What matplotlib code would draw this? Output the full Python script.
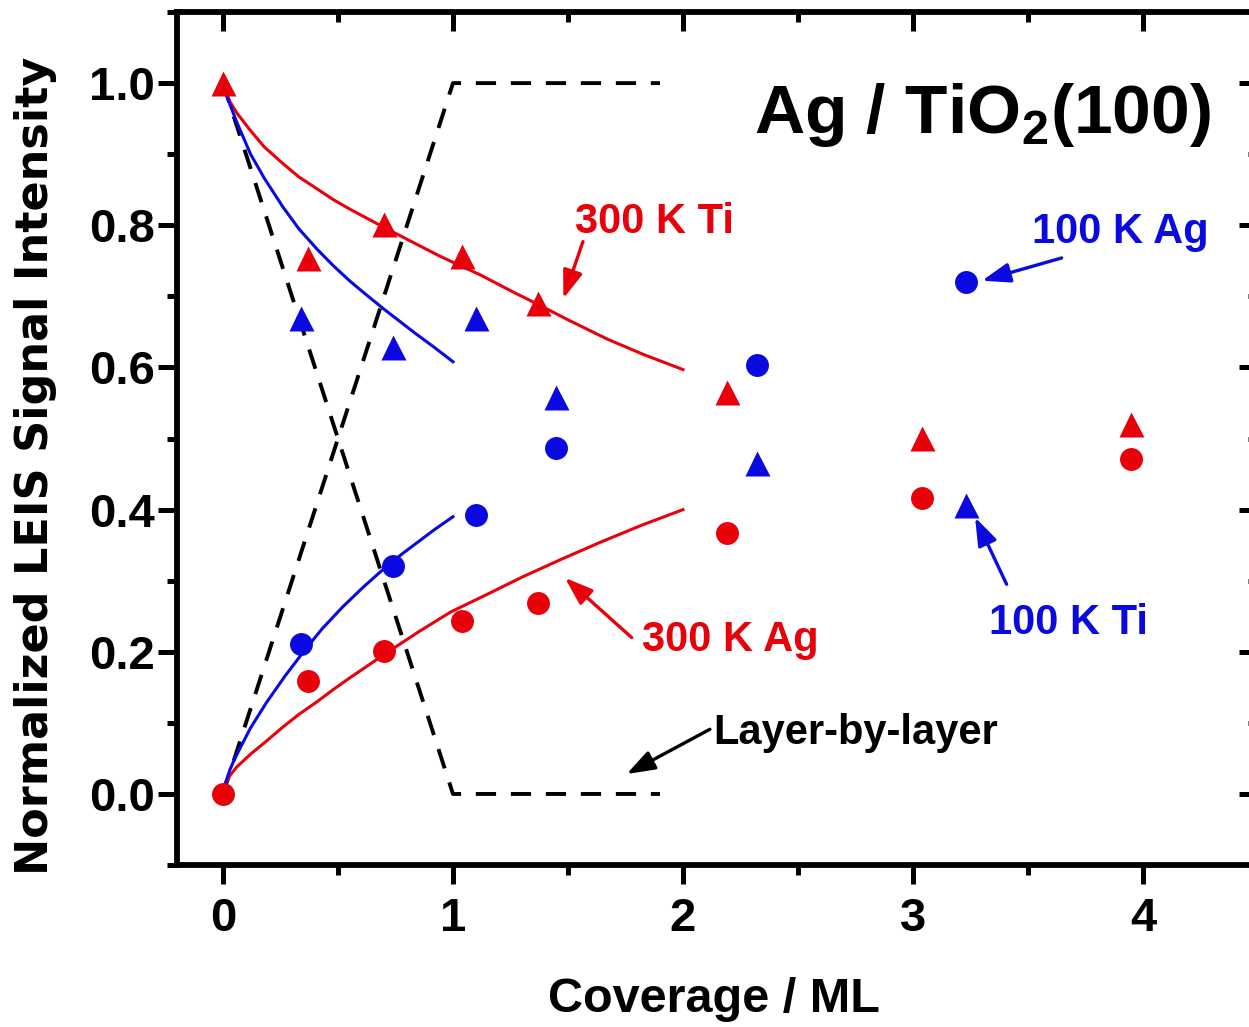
import matplotlib
matplotlib.use('Agg')
import matplotlib.pyplot as plt
import matplotlib.lines as mlines
from matplotlib.ticker import MultipleLocator, FormatStrFormatter

plt.rcParams['font.family'] = ['Liberation Sans', 'DejaVu Sans']
plt.rcParams['font.weight'] = 'bold'
plt.rcParams['mathtext.fontset'] = 'custom'
plt.rcParams['mathtext.rm'] = 'Liberation Sans:bold'

RED = '#e8000a'
BLUE = '#0a0ae0'

# measured points
cov = [0.0, 0.37, 0.70, 1.04, 1.37, 2.19, 3.04, 3.95]
ti_300 = [1.0, 0.754, 0.802, 0.757, 0.690, 0.565, 0.501, 0.521]
ag_300 = [0.0, 0.159, 0.201, 0.243, 0.268, 0.367, 0.417, 0.471]

cov_100 = [0.34, 0.74, 1.10, 1.45, 2.32, 3.23]
ti_100 = [0.670, 0.629, 0.670, 0.559, 0.465, 0.407]
ag_100 = [0.211, 0.320, 0.393, 0.486, 0.603, 0.720]

# fit curves
fit_ti_300_x = [0.0, 0.01, 0.03, 0.06, 0.12, 0.18, 0.26, 0.33, 0.41, 0.48, 0.55, 0.70,
                0.85, 0.94, 1.12, 1.25, 1.38, 1.50, 1.67, 1.83, 2.0]
fit_ti_300 = [1.0, 0.988, 0.974, 0.958, 0.933, 0.910, 0.887, 0.868, 0.851, 0.836, 0.823, 0.797,
              0.772, 0.757, 0.730, 0.708, 0.687, 0.667, 0.640, 0.618, 0.597]
fit_ag_300_x = [0.0, 0.01, 0.03, 0.06, 0.12, 0.18, 0.26, 0.33, 0.41, 0.48, 0.55, 0.70,
                0.85, 0.99, 1.15, 1.30, 1.47, 1.64, 1.82, 2.0]
fit_ag_300 = [0.0, 0.014, 0.026, 0.038, 0.056, 0.072, 0.094, 0.112, 0.130, 0.147, 0.163, 0.196,
              0.228, 0.256, 0.281, 0.305, 0.330, 0.354, 0.378, 0.400]

fit_ti_100_x = [0.0, 0.01, 0.03, 0.06, 0.12, 0.18, 0.26, 0.33, 0.41, 0.48, 0.55, 0.62,
                0.70, 0.84, 0.92, 1.0]
fit_ti_100 = [1.0, 0.988, 0.970, 0.945, 0.900, 0.866, 0.826, 0.795, 0.766, 0.743, 0.722, 0.703,
              0.682, 0.647, 0.628, 0.608]
fit_ag_100_x = [0.0, 0.01, 0.03, 0.05, 0.08, 0.12, 0.19, 0.27, 0.35, 0.43, 0.52, 0.61,
                0.70, 0.78, 0.85, 0.92, 1.0]
fit_ag_100 = [0.0, 0.015, 0.034, 0.049, 0.068, 0.093, 0.129, 0.166, 0.200, 0.232, 0.263, 0.291,
              0.317, 0.338, 0.355, 0.372, 0.390]

# layer-by-layer model
lbl_x = [0.0, 1.0, 1.9]
lbl_sub = [1.0, 0.0, 0.0]
lbl_ads = [0.0, 1.0, 1.0]

fig = plt.figure(figsize=(12.49, 10.27), dpi=100)
ax = fig.add_axes([0.1417, 0.1577, 0.8655, 0.8306])

ax.plot(lbl_x, lbl_sub, color='black', lw=2.8, dashes=(5.2, 3.8))
ax.plot(lbl_x, lbl_ads, color='black', lw=2.8, dashes=(5.2, 3.8))

ax.plot(fit_ti_300_x, fit_ti_300, color=RED, lw=2.2, solid_joinstyle='round')
ax.plot(fit_ag_300_x, fit_ag_300, color=RED, lw=2.2, solid_joinstyle='round')
ax.plot(fit_ti_100_x, fit_ti_100, color=BLUE, lw=2.2, solid_joinstyle='round')
ax.plot(fit_ag_100_x, fit_ag_100, color=BLUE, lw=2.2, solid_joinstyle='round')

ax.plot(cov_100, ti_100, '^', color=BLUE, ms=18, mec='none')
ax.plot(cov_100, ag_100, 'o', color=BLUE, ms=16.5, mec='none')
ax.plot(cov, ti_300, '^', color=RED, ms=18, mec='none')
ax.plot(cov, ag_300, 'o', color=RED, ms=16.5, mec='none')

ax.set_xlim(-0.2, 4.5)
ax.set_ylim(-0.1, 1.1)
ax.xaxis.set_major_locator(MultipleLocator(1))
ax.xaxis.set_minor_locator(MultipleLocator(0.5))
ax.yaxis.set_major_locator(MultipleLocator(0.2))
ax.yaxis.set_minor_locator(MultipleLocator(0.1))
ax.yaxis.set_major_formatter(FormatStrFormatter('%.1f'))

for s in ax.spines.values():
    s.set_linewidth(4.2)
ax.tick_params(which='major', length=14, width=3.6, labelsize=34)
ax.tick_params(which='minor', length=7, width=3.6)
ax.tick_params(which='both', top=True, right=True, direction='out')
ax.tick_params(axis='x', which='major', pad=9)
ax.tick_params(axis='y', which='major', pad=2)
# top and right ticks point inward
for t in ax.xaxis.get_ticklines(minor=False)[1::2] + ax.xaxis.get_ticklines(minor=True)[1::2]:
    t.set_marker(mlines.TICKDOWN)
for t in ax.yaxis.get_ticklines(minor=False)[1::2] + ax.yaxis.get_ticklines(minor=True)[1::2]:
    t.set_marker(mlines.TICKLEFT)

ax.set_xlabel('Coverage / ML', fontsize=35, fontweight='bold')
ax.xaxis.set_label_coords(0.497, -0.172)
ax.xaxis.label.set_va('baseline')
ax.set_ylabel('Normalized LEIS Signal Intensity', fontsize=32, fontweight='bold',
              family='DejaVu Sans')
ax.yaxis.set_label_coords(-0.131, 0.468)
ax.yaxis.label.set_va('center')

ax.text(3.30, 0.93, 'Ag / TiO$_2$(100)', fontsize=50, fontweight='bold',
        ha='center', va='baseline')

# annotation labels
lab_kw = dict(fontsize=30, fontweight='bold', ha='center', va='baseline')
ax.text(1.874, 0.789, '300 K Ti', color=RED, **lab_kw)
ax.text(2.204, 0.201, '300 K Ag', color=RED, **lab_kw)
ax.text(3.90, 0.775, '100 K Ag', color=BLUE, **lab_kw)
ax.text(3.678, 0.225, '100 K Ti', color=BLUE, **lab_kw)
ax.text(2.752, 0.070, 'Layer-by-layer', color='black', **lab_kw)

arrows = [
    ((1.48, 0.697), (1.565, 0.777), RED),
    ((1.487, 0.304), (1.777, 0.220), RED),
    ((3.30, 0.722), (3.646, 0.754), BLUE),
    ((3.27, 0.389), (3.407, 0.295), BLUE),
    ((1.755, 0.028), (2.117, 0.091), 'black'),
]
for tip, tail, c in arrows:
    ax.annotate('', xy=tip, xytext=tail,
                arrowprops=dict(arrowstyle='-|>,head_length=0.85,head_width=0.3',
                                color=c, lw=2.4, mutation_scale=20,
                                shrinkA=0, shrinkB=0))

fig.savefig('out.png', dpi=100)
